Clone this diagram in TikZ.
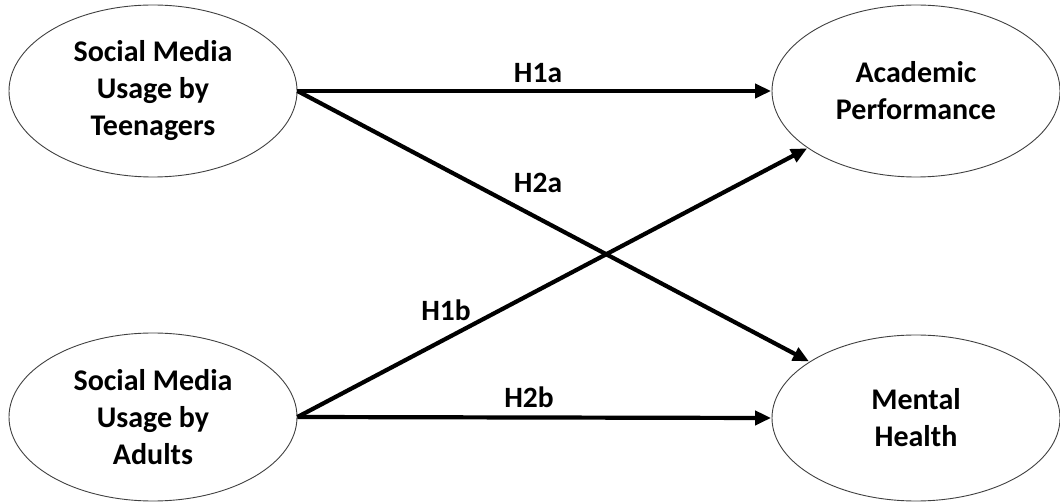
\documentclass[tikz,border=0pt]{standalone}
\usepackage{fontspec}
\setmainfont{Carlito}
\usetikzlibrary{shapes.geometric,arrows.meta}
\tikzset{
  construct/.style={ellipse,draw=black!75,line width=0.9pt,inner sep=0pt,
    minimum width=288pt,minimum height=172pt,align=center,
    font=\fontsize{30}{37}\selectfont\bfseries},
  path/.style={line width=4.2pt,-{Triangle[length=16pt,width=14pt]},shorten >=0.5pt},
  hlabel/.style={font=\fontsize{29.5}{34}\selectfont\bfseries,inner sep=0pt}
}
\begin{document}
\begin{tikzpicture}[x=1pt,y=-1pt]
\useasboundingbox (0,0) rectangle (1060,502);
\node[construct] (tl) at (153,91) {Social Media\\Usage by\\Teenagers};
\node[construct,minimum height=168pt] (bl) at (153,417) {Social Media\\Usage by\\Adults};
\node[construct] (ap) at (916,91) {Academic\\Performance};
\node[construct,minimum height=166pt] (mh) at (916,418) {Mental\\Health};
\draw[path] (tl.east) -- (ap.west);
\draw[path] (tl.east) -- (mh);
\draw[path] (bl.east) -- (ap);
\draw[path] (bl.east) -- (mh.west);
\node[hlabel] (l1a) at (538,73) {H1a};
\node[hlabel] (l2a) at (538,183) {H2a};
\node[hlabel] (l1b) at (446,310) {H1b};
\node[hlabel] (l2b) at (529,397) {H2b};
\end{tikzpicture}
\end{document}
